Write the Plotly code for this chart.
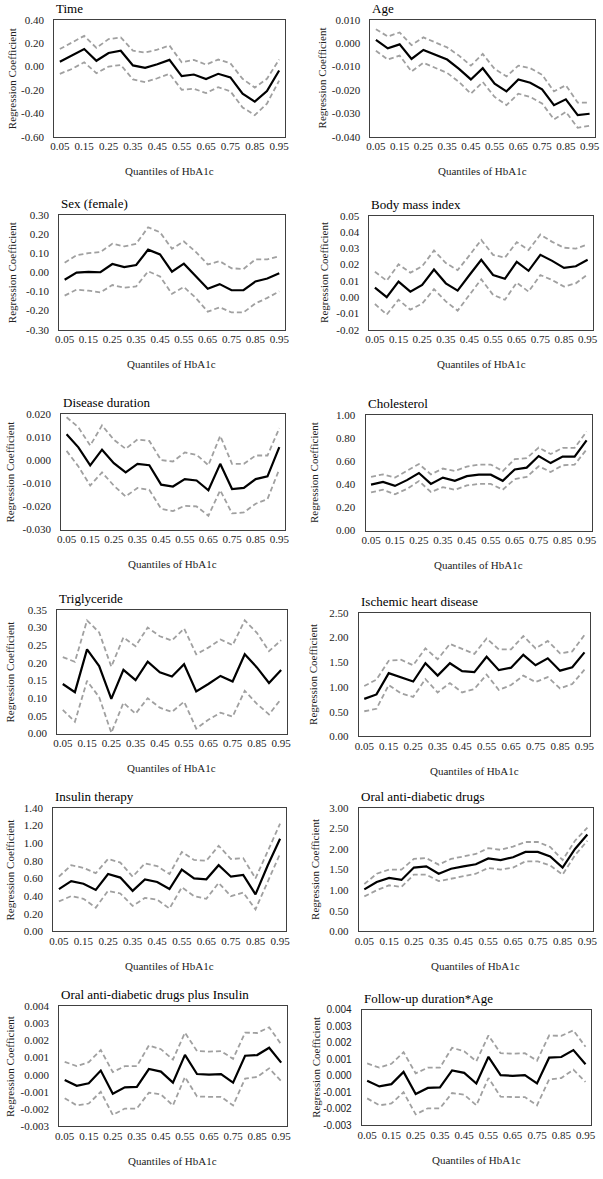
import plotly.graph_objects as go

# quantiles of HbA1c (x categories)
quantiles = [0.05, 0.10, 0.15, 0.20, 0.25, 0.30, 0.35, 0.40, 0.45, 0.50,
             0.55, 0.60, 0.65, 0.70, 0.75, 0.80, 0.85, 0.90, 0.95]
tick_quantiles = [0.05, 0.15, 0.25, 0.35, 0.45, 0.55, 0.65, 0.75, 0.85, 0.95]

# regression coefficient + upper / lower confidence limits
time_coef = [0.042, 0.094, 0.150, 0.050, 0.116, 0.136, 0.010, -0.010, 0.020, 0.057, -0.082, -0.068, -0.107, -0.062, -0.093, -0.232, -0.300, -0.210, -0.034]
time_upper = [0.150, 0.207, 0.263, 0.160, 0.235, 0.250, 0.136, 0.120, 0.145, 0.180, 0.037, 0.057, 0.017, 0.060, 0.028, -0.105, -0.180, -0.105, 0.060]
time_lower = [-0.062, -0.020, 0.037, -0.057, 0.000, 0.014, -0.110, -0.133, -0.100, -0.062, -0.198, -0.190, -0.227, -0.176, -0.212, -0.350, -0.416, -0.317, -0.120]

age_coef = [0.0014, -0.0022, -0.0005, -0.0067, -0.0029, -0.0050, -0.0070, -0.0110, -0.0155, -0.0107, -0.0173, -0.0206, -0.0155, -0.0169, -0.0197, -0.0265, -0.0240, -0.0308, -0.0302]
age_upper = [0.0060, 0.0029, 0.0046, -0.0008, 0.0025, 0.0004, -0.0018, -0.0053, -0.0096, -0.0046, -0.0110, -0.0142, -0.0096, -0.0107, -0.0135, -0.0206, -0.0180, -0.0254, -0.0254]
age_lower = [-0.0032, -0.0070, -0.0053, -0.0121, -0.0084, -0.0107, -0.0127, -0.0166, -0.0216, -0.0166, -0.0230, -0.0265, -0.0216, -0.0230, -0.0258, -0.0326, -0.0294, -0.0362, -0.0353]

sex_coef = [-0.039, -0.002, 0.002, 0.000, 0.043, 0.027, 0.038, 0.118, 0.093, 0.003, 0.045, -0.022, -0.086, -0.062, -0.094, -0.094, -0.048, -0.033, -0.005]
sex_upper = [0.050, 0.089, 0.100, 0.106, 0.149, 0.135, 0.149, 0.235, 0.209, 0.123, 0.161, 0.106, 0.041, 0.058, 0.021, 0.017, 0.067, 0.067, 0.084]
sex_lower = [-0.122, -0.091, -0.096, -0.105, -0.067, -0.081, -0.074, 0.005, -0.022, -0.113, -0.077, -0.134, -0.206, -0.183, -0.210, -0.210, -0.163, -0.134, -0.100]

bmi_coef = [0.0059, 0.0000, 0.0095, 0.0034, 0.0075, 0.0170, 0.0085, 0.0040, 0.0136, 0.0230, 0.0136, 0.0113, 0.0217, 0.0162, 0.0260, 0.0223, 0.0180, 0.0190, 0.0230]
bmi_upper = [0.0156, 0.0101, 0.0202, 0.0150, 0.0190, 0.0287, 0.0210, 0.0166, 0.0257, 0.0352, 0.0260, 0.0243, 0.0338, 0.0290, 0.0385, 0.0340, 0.0304, 0.0298, 0.0324]
bmi_lower = [-0.0042, -0.0107, -0.0016, -0.0077, -0.0040, 0.0049, -0.0026, -0.0083, 0.0014, 0.0110, 0.0014, -0.0016, 0.0089, 0.0034, 0.0136, 0.0105, 0.0065, 0.0085, 0.0140]

dur_coef = [0.0112, 0.0055, -0.0023, 0.0045, -0.0013, -0.0053, -0.0016, -0.0022, -0.0106, -0.0114, -0.0082, -0.0088, -0.0130, -0.0016, -0.0125, -0.0120, -0.0082, -0.0070, 0.0056]
dur_upper = [0.0185, 0.0142, 0.0063, 0.0150, 0.0088, 0.0049, 0.0089, 0.0083, 0.0000, -0.0006, 0.0033, 0.0023, -0.0022, 0.0105, -0.0016, -0.0016, 0.0020, 0.0020, 0.0138]
dur_lower = [0.0040, -0.0027, -0.0110, -0.0053, -0.0110, -0.0157, -0.0120, -0.0128, -0.0210, -0.0220, -0.0197, -0.0200, -0.0240, -0.0130, -0.0230, -0.0226, -0.0188, -0.0168, -0.0039]

chol_coef = [0.397, 0.420, 0.386, 0.436, 0.497, 0.403, 0.458, 0.430, 0.470, 0.483, 0.483, 0.430, 0.528, 0.544, 0.644, 0.583, 0.639, 0.639, 0.780]
chol_upper = [0.464, 0.486, 0.458, 0.514, 0.575, 0.486, 0.536, 0.514, 0.553, 0.570, 0.570, 0.514, 0.617, 0.625, 0.717, 0.661, 0.714, 0.714, 0.855]
chol_lower = [0.330, 0.353, 0.314, 0.360, 0.428, 0.333, 0.375, 0.353, 0.390, 0.403, 0.403, 0.353, 0.444, 0.464, 0.556, 0.506, 0.564, 0.570, 0.700]

trig_coef = [0.140, 0.117, 0.238, 0.191, 0.098, 0.180, 0.151, 0.203, 0.173, 0.161, 0.196, 0.119, 0.140, 0.163, 0.147, 0.224, 0.187, 0.143, 0.180]
trig_upper = [0.216, 0.203, 0.320, 0.286, 0.189, 0.272, 0.247, 0.300, 0.275, 0.263, 0.297, 0.224, 0.243, 0.266, 0.250, 0.320, 0.285, 0.233, 0.264]
trig_lower = [0.067, 0.033, 0.149, 0.103, 0.002, 0.087, 0.056, 0.100, 0.073, 0.061, 0.090, 0.014, 0.039, 0.059, 0.048, 0.121, 0.084, 0.054, 0.098]

ihd_coef = [0.76, 0.85, 1.28, 1.20, 1.11, 1.48, 1.23, 1.48, 1.32, 1.30, 1.61, 1.34, 1.39, 1.65, 1.44, 1.58, 1.33, 1.40, 1.70]
ihd_upper = [1.02, 1.15, 1.53, 1.55, 1.44, 1.78, 1.56, 1.87, 1.77, 1.67, 1.98, 1.76, 1.76, 2.03, 1.78, 1.93, 1.68, 1.72, 2.05]
ihd_lower = [0.51, 0.56, 1.04, 0.87, 0.80, 1.16, 0.89, 1.08, 0.89, 0.96, 1.25, 0.94, 1.04, 1.23, 1.10, 1.20, 0.97, 1.06, 1.35]

ins_coef = [0.48, 0.57, 0.54, 0.47, 0.65, 0.61, 0.46, 0.59, 0.56, 0.48, 0.70, 0.60, 0.59, 0.75, 0.62, 0.64, 0.42, 0.75, 1.05]
ins_upper = [0.62, 0.75, 0.72, 0.66, 0.82, 0.78, 0.62, 0.77, 0.74, 0.65, 0.90, 0.81, 0.80, 0.97, 0.82, 0.83, 0.60, 0.92, 1.22]
ins_lower = [0.34, 0.40, 0.37, 0.27, 0.46, 0.43, 0.29, 0.38, 0.36, 0.26, 0.50, 0.40, 0.37, 0.55, 0.40, 0.44, 0.25, 0.56, 0.88]

oad_coef = [1.02, 1.20, 1.30, 1.25, 1.55, 1.58, 1.40, 1.52, 1.58, 1.63, 1.77, 1.73, 1.80, 1.93, 1.93, 1.82, 1.55, 2.00, 2.35]
oad_upper = [1.15, 1.40, 1.50, 1.50, 1.76, 1.78, 1.62, 1.76, 1.82, 1.88, 2.02, 1.98, 2.06, 2.17, 2.17, 2.05, 1.73, 2.20, 2.52]
oad_lower = [0.85, 1.00, 1.12, 1.08, 1.38, 1.38, 1.22, 1.28, 1.35, 1.40, 1.54, 1.50, 1.55, 1.70, 1.70, 1.60, 1.38, 1.85, 2.20]

oadi_coef = [-0.00030, -0.00064, -0.00050, 0.00024, -0.00110, -0.00073, -0.00070, 0.00033, 0.00018, -0.00046, 0.00115, 0.00004, 0.00000, 0.00004, -0.00046, 0.00110, 0.00114, 0.00156, 0.00070]
oadi_upper = [0.00075, 0.00050, 0.00073, 0.00143, 0.00015, 0.00050, 0.00050, 0.00170, 0.00148, 0.00088, 0.00244, 0.00137, 0.00134, 0.00137, 0.00092, 0.00244, 0.00242, 0.00275, 0.00176]
oadi_lower = [-0.00136, -0.00178, -0.00167, -0.00099, -0.00233, -0.00196, -0.00196, -0.00104, -0.00114, -0.00178, -0.00013, -0.00126, -0.00128, -0.00128, -0.00178, -0.00022, -0.00013, 0.00037, -0.00037]

fu_coef = [-0.00030, -0.00064, -0.00050, 0.00024, -0.00110, -0.00073, -0.00070, 0.00033, 0.00018, -0.00046, 0.00115, 0.00004, 0.00000, 0.00004, -0.00046, 0.00110, 0.00114, 0.00156, 0.00070]
fu_upper = [0.00075, 0.00050, 0.00073, 0.00143, 0.00015, 0.00050, 0.00050, 0.00170, 0.00148, 0.00088, 0.00244, 0.00137, 0.00134, 0.00137, 0.00092, 0.00244, 0.00242, 0.00275, 0.00176]
fu_lower = [-0.00136, -0.00178, -0.00167, -0.00099, -0.00233, -0.00196, -0.00196, -0.00104, -0.00114, -0.00178, -0.00013, -0.00126, -0.00128, -0.00128, -0.00178, -0.00022, -0.00013, 0.00037, -0.00037]

# title, coef, upper, lower, y min, y max, y step, decimals
PANELS = [
    ("Time", time_coef, time_upper, time_lower, -0.6, 0.4, 0.2, 2),
    ("Age", age_coef, age_upper, age_lower, -0.04, 0.01, 0.01, 3),
    ("Sex (female)", sex_coef, sex_upper, sex_lower, -0.3, 0.3, 0.1, 2),
    ("Body mass index", bmi_coef, bmi_upper, bmi_lower, -0.02, 0.05, 0.01, 2),
    ("Disease duration", dur_coef, dur_upper, dur_lower, -0.03, 0.02, 0.01, 3),
    ("Cholesterol", chol_coef, chol_upper, chol_lower, 0.0, 1.0, 0.2, 2),
    ("Triglyceride", trig_coef, trig_upper, trig_lower, 0.0, 0.35, 0.05, 2),
    ("Ischemic heart disease", ihd_coef, ihd_upper, ihd_lower, 0.0, 2.5, 0.5, 2),
    ("Insulin therapy", ins_coef, ins_upper, ins_lower, 0.0, 1.4, 0.2, 2),
    ("Oral anti-diabetic drugs", oad_coef, oad_upper, oad_lower, 0.0, 3.0, 0.5, 2),
    ("Oral anti-diabetic drugs plus Insulin", oadi_coef, oadi_upper, oadi_lower, -0.003, 0.004, 0.001, 3),
    ("Follow-up duration*Age", fu_coef, fu_upper, fu_lower, -0.003, 0.004, 0.001, 3),
]

# plot boxes in pixels: left, right, top, bottom ; plus x of the y-axis title
BOXES = [
    (51, 285, 14, 132), (372, 600, 14, 132),
    (56, 285, 211, 327), (371, 598, 212, 327),
    (58, 285, 412, 529), (367, 597, 413, 530),
    (54, 287, 610, 735), (360, 595, 613, 738),
    (50, 286, 810, 935), (360, 598, 810, 935),
    (56, 287, 1010, 1132), (363, 596, 1014, 1131),
]
YTITLE_X = [8, 323, 8, 325, 6, 314, 6, 313, 6, 315, 6, 316]

W, H = 603, 1179
FONT = "Liberation Serif"
GREY = "#a0a0a0"

fig = go.Figure()
annotations = []
pad = 0.023

for i, (title, coef, upper, lower, ymin, ymax, ystep, dec) in enumerate(PANELS):
    n = i + 1
    xa = "x" if n == 1 else "x%d" % n
    ya = "y" if n == 1 else "y%d" % n
    left, right, top, bottom = BOXES[i]

    for vals, color, width, dash in [(upper, GREY, 1.8, "5px,3px"),
                                     (lower, GREY, 1.8, "5px,3px"),
                                     (coef, "black", 2.2, "solid")]:
        fig.add_trace(go.Scatter(x=quantiles, y=vals, mode="lines", xaxis=xa, yaxis=ya,
                                 line=dict(color=color, width=width, dash=dash),
                                 showlegend=False, hoverinfo="skip"))

    # y ticks with plain hyphen minus like the original
    nt = int(round((ymax - ymin) / ystep))
    yvals = [round(ymin + k * ystep, 6) + 0.0 for k in range(nt + 1)]
    ytext = [("%." + str(dec) + "f") % v for v in yvals]
    yfont = dict(family=FONT, size=11, color="#222")
    if n == 12:
        yfont = dict(family="Liberation Sans", size=10, color="#222")

    axkey = "xaxis" if n == 1 else "xaxis%d" % n
    aykey = "yaxis" if n == 1 else "yaxis%d" % n
    fig.layout[axkey] = dict(
        domain=[left / W, right / W], anchor=ya,
        range=[0.05 - pad, 0.95 + pad],
        tickvals=tick_quantiles, ticktext=["%.2f" % q for q in tick_quantiles],
        tickfont=dict(family=FONT, size=11, color="#222"),
        showgrid=False, zeroline=False, showline=True, mirror=True,
        linecolor="#404040", linewidth=1, ticks="", ticklabelstandoff=-1)
    fig.layout[aykey] = dict(
        domain=[1 - bottom / H, 1 - top / H], anchor=xa,
        range=[ymin, ymax], tickvals=yvals, ticktext=ytext, tickfont=yfont,
        showgrid=False, zeroline=False, showline=True, mirror=True,
        linecolor="#404040", linewidth=1, ticks="", ticklabelstandoff=7)

    # panel title
    annotations.append(dict(text=title, x=left / W, y=1 - (top - 2) / H, xref="paper", yref="paper",
                            xanchor="left", yanchor="bottom", showarrow=False,
                            font=dict(family=FONT, size=13, color="black")))
    # axis titles
    annotations.append(dict(text="Quantiles of HbA1c", x=(left + right) / 2 / W, y=1 - (bottom + 35) / H,
                            xref="paper", yref="paper", xanchor="center", yanchor="middle",
                            showarrow=False, font=dict(family=FONT, size=11, color="#222")))
    annotations.append(dict(text="Regression Coefficient", x=YTITLE_X[i] / W, y=1 - (top + bottom) / 2 / H,
                            xref="paper", yref="paper", xanchor="center", yanchor="middle",
                            textangle=-90, showarrow=False, font=dict(family=FONT, size=11, color="#222")))

fig.update_layout(
    width=W, height=H,
    margin=dict(l=0, r=0, t=0, b=0),
    paper_bgcolor="white", plot_bgcolor="white",
    annotations=annotations,
)

# page body has a default 8px margin, drop it so the figure sits at the corner
fig.write_html("out.html", config={"displayModeBar": False},
               post_script="document.body.style.margin='0px';")
